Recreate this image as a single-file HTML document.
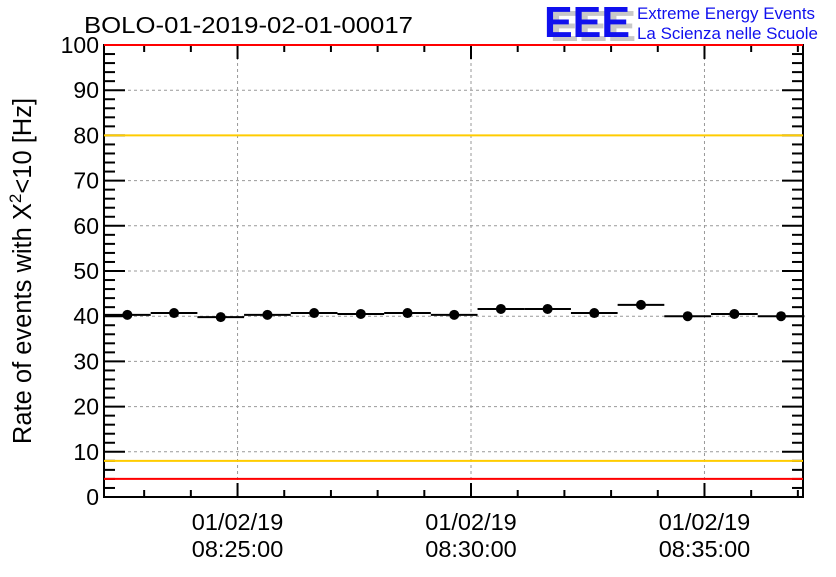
<!DOCTYPE html>
<html><head><meta charset="utf-8"><style>
body{margin:0;background:#fff;}
svg text{font-family:"Liberation Sans",sans-serif;}
</style></head><body>
<svg id="c" width="836" height="572" viewBox="0 0 836 572" xmlns="http://www.w3.org/2000/svg">
<rect width="836" height="572" fill="#fff"/>
<text x="84" y="33" font-size="23" fill="#000" textLength="329" lengthAdjust="spacingAndGlyphs">BOLO-01-2019-02-01-00017</text>
<g>
<text x="550" y="41" font-size="44" font-weight="bold" fill="#c8c8c8" textLength="86" lengthAdjust="spacingAndGlyphs">EEE</text>
<text x="544" y="37" font-size="44" font-weight="bold" fill="#1010ee" textLength="86" lengthAdjust="spacingAndGlyphs">EEE</text>
<text x="637" y="19" font-size="17" fill="#1010ee" textLength="178" lengthAdjust="spacingAndGlyphs">Extreme Energy Events</text>
<text x="637" y="39" font-size="17" fill="#1010ee" textLength="181" lengthAdjust="spacingAndGlyphs">La Scienza nelle Scuole</text>
</g>
<g id="grid"></g><g id="axes"></g><g id="refs"></g><g id="series"></g>
<text transform="translate(31,271) rotate(-90)" text-anchor="middle" font-size="25.5">Rate of events with X<tspan dy="-10" font-size="17">2</tspan><tspan dy="10">&lt;10 [Hz]</tspan></text>
</svg>
<script>
const values=[40.3,40.7,39.8,40.3,40.7,40.5,40.7,40.3,41.6,41.6,40.7,42.5,40.0,40.5,40.0];
const yTicks=[0,10,20,30,40,50,60,70,80,90,100];
const xTickLabels=[["01/02/19","08:25:00"],["01/02/19","08:30:00"],["01/02/19","08:35:00"]];
const xTickMinutes=[25,30,35];
const refLines=[[100,"#ff0000"],[80,"#ffcc00"],[8,"#ffcc00"],[4,"#ff0000"]];
const startMin=22.14, endMin=37.11;
const L=104,R=803,T=45,B=497;
const sx=m=>L+(m-startMin)/(endMin-startMin)*(R-L);
const sy=v=>B-v/100*(B-T);
const NS="http://www.w3.org/2000/svg";
function mk(p,tag,a){const e=document.createElementNS(NS,tag);for(const k in a)e.setAttribute(k,a[k]);document.getElementById(p).appendChild(e);return e;}
yTicks.forEach(v=>{if(v>0&&v<100){const e=mk('grid','line',{x1:L,x2:R,y1:sy(v),y2:sy(v),stroke:'#999','stroke-dasharray':'3,3'});

}});
xTickMinutes.forEach(m=>{const e=mk('grid','line',{x1:sx(m),x2:sx(m),y1:T,y2:B,stroke:'#999','stroke-dasharray':'3,3'});

});
const fr=mk('axes','rect',{x:L,y:T,width:R-L,height:B-T,fill:'none',stroke:'#000','stroke-width':2});


for(let v=0;v<=100;v+=2){const maj=v%10===0;const len=maj?21:11;
mk('axes','line',{x1:L,x2:L+len,y1:sy(v),y2:sy(v),stroke:'#000','stroke-width':2});
mk('axes','line',{x1:R,x2:R-len,y1:sy(v),y2:sy(v),stroke:'#000','stroke-width':2});}
yTicks.forEach(v=>{const t=mk('axes','text',{x:L-5,y:sy(v)+8,'text-anchor':'end','font-size':23});t.textContent=v;

});
for(let m=Math.ceil(startMin);m<=endMin;m++){const maj=m%5===0;const len=maj?14:7;
mk('axes','line',{x1:sx(m),x2:sx(m),y1:B,y2:B-len,stroke:'#000','stroke-width':2});
mk('axes','line',{x1:sx(m),x2:sx(m),y1:T,y2:T+len,stroke:'#000','stroke-width':2});}
xTickMinutes.forEach((m,i)=>{const t=mk('axes','text',{x:sx(m),y:530,'text-anchor':'middle','font-size':23.5});t.textContent=xTickLabels[i][0];


const t2=mk('axes','text',{x:sx(m),y:557,'text-anchor':'middle','font-size':23.5});t2.textContent=xTickLabels[i][1];

});
refLines.forEach(r=>{const e=mk('refs','line',{x1:L,x2:R,y1:sy(r[0]),y2:sy(r[0]),stroke:r[1],'stroke-width':2});

});
values.forEach((v,i)=>{const x0=sx(startMin+i),x1=sx(startMin+i+1),y=sy(v);
const h=mk('series','line',{x1:x0,x2:x1,y1:y,y2:y,stroke:'#000','stroke-width':2});


const c=mk('series','circle',{cx:(x0+x1)/2,cy:y,r:5,fill:'#000'});

});
</script>
</body></html>
